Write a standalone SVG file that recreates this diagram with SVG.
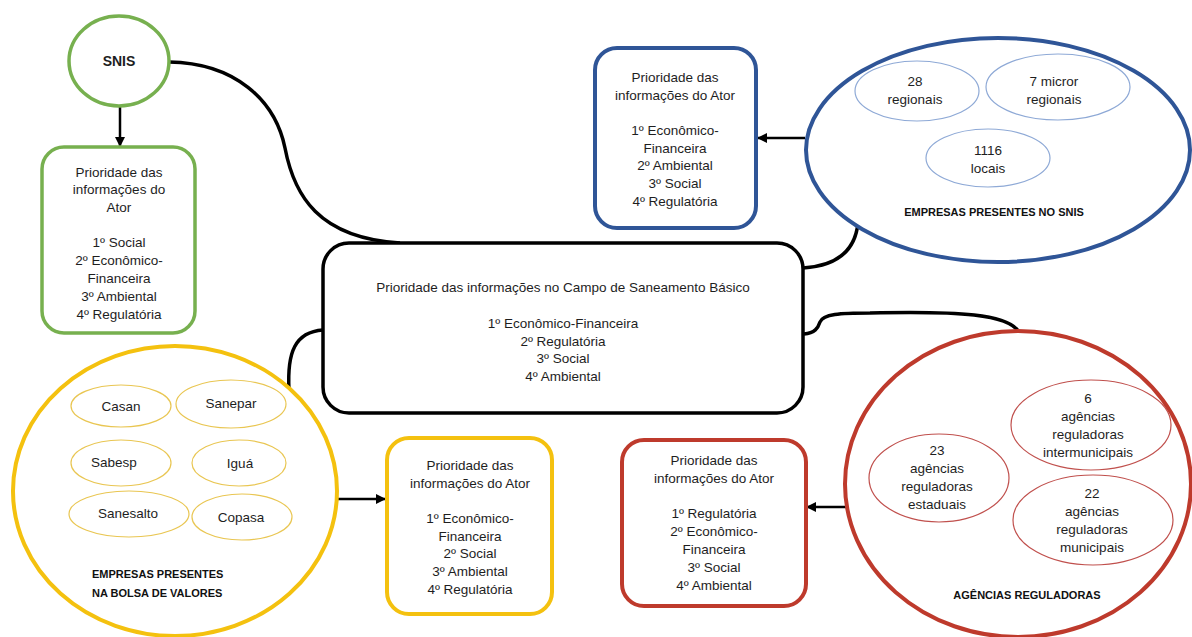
<svg xmlns="http://www.w3.org/2000/svg" width="1192" height="637" viewBox="0 0 1192 637">
<defs>
<marker id="arr" viewBox="0 0 10 10" refX="9" refY="5" markerWidth="4" markerHeight="4" orient="auto" markerUnits="strokeWidth">
<path d="M0,0 L10,5 L0,10 z" fill="#000"/>
</marker>
<style>
text{font-family:"Liberation Sans",Arial,sans-serif;font-size:13.5px;fill:#1e1e1e;text-anchor:middle}
.b{font-weight:bold;font-size:11px;fill:#111}
.l{text-anchor:start}
.con{fill:none;stroke:#000;stroke-width:3.5}
.arw{fill:none;stroke:#000;stroke-width:2.5;marker-end:url(#arr)}
.g{fill:#fff;stroke:#77b04f;stroke-width:3.5}
.bl{fill:#fff;stroke:#2f5597;stroke-width:4}
.rd{fill:#fff;stroke:#be3a2c;stroke-width:4}
.yl{fill:#fff;stroke:#f4c10f;stroke-width:4}
.ibl{fill:none;stroke:#8ea9d6;stroke-width:1.2}
.ird{fill:none;stroke:#c0504d;stroke-width:1.2}
.iyl{fill:none;stroke:#e9c652;stroke-width:1.2}
.box{fill:#fff;stroke:#000;stroke-width:3.5}
</style>
</defs>
<rect width="1192" height="637" fill="#fff"/>

<g id="connectors">
<path class="con" d="M169,62 C235,63 275,100 285,148 C294,195 318,238 400,243"/>
<path class="con" d="M803,268 C835,266 855,252 858,223"/>
<path class="con" d="M804,334 C815,333 818,328 820,322 C823,314 840,313 870,313 C960,311 1008,314 1019,332"/>
<path class="con" d="M289,390 C287,352 295,332 323,330"/>
<path class="arw" d="M120,107 L120,146"/>
<path class="arw" d="M805,138 L758,138"/>
<path class="arw" d="M337,499 L385,499"/>
<path class="arw" d="M846,507 L807,507"/>
</g>

<g id="snis">
<ellipse class="g" cx="119" cy="61" rx="50" ry="45"/>
<text x="119" y="66" style="font-weight:bold;font-size:14px">SNIS</text>
</g>

<g id="snis-prioridade">
<rect class="g" x="42" y="147" width="153" height="186" rx="22"/>
<text x="119" y="177">Prioridade das</text>
<text x="119" y="194">informações do</text>
<text x="119" y="212">Ator</text>
<text x="119" y="247">1º Social</text>
<text x="119" y="265">2º Econômico-</text>
<text x="119" y="283">Financeira</text>
<text x="119" y="301">3º Ambiental</text>
<text x="119" y="319">4º Regulatória</text>
</g>

<g id="central">
<rect class="box" x="323" y="243" width="480" height="170" rx="26"/>
<text x="563" y="292">Prioridade das informações no Campo de Saneamento Básico</text>
<text x="563" y="328">1º Econômico-Financeira</text>
<text x="563" y="346">2º Regulatória</text>
<text x="563" y="363">3º Social</text>
<text x="563" y="381">4º Ambiental</text>
</g>

<g id="empresas-snis">
<ellipse class="bl" cx="998" cy="150" rx="192" ry="112"/>
<ellipse class="ibl" cx="917" cy="91" rx="62" ry="30"/>
<text x="915" y="86">28</text>
<text x="915" y="104">regionais</text>
<ellipse class="ibl" cx="1058" cy="87" rx="72" ry="33"/>
<text x="1054" y="86">7 micror</text>
<text x="1054" y="104">regionais</text>
<ellipse class="ibl" cx="988" cy="158" rx="62" ry="29"/>
<text x="988" y="155">1116</text>
<text x="988" y="173">locais</text>
<text class="b" x="994" y="216">EMPRESAS PRESENTES NO SNIS</text>
</g>

<g id="snis-empresas-prioridade">
<rect class="bl" x="595" y="48" width="161" height="180" rx="22"/>
<text x="675" y="82">Prioridade das</text>
<text x="675" y="100">informações do Ator</text>
<text x="675" y="135">1º Econômico-</text>
<text x="675" y="153">Financeira</text>
<text x="675" y="170">2º Ambiental</text>
<text x="675" y="188">3º Social</text>
<text x="675" y="206">4º Regulatória</text>
</g>

<g id="bolsa">
<ellipse class="yl" cx="175" cy="491" rx="162" ry="145"/>
<ellipse class="iyl" cx="121" cy="406" rx="50" ry="21"/>
<text x="121" y="411">Casan</text>
<ellipse class="iyl" cx="231" cy="404" rx="55" ry="24"/>
<text x="231" y="408">Sanepar</text>
<ellipse class="iyl" cx="121" cy="463" rx="50" ry="23"/>
<text x="114" y="467">Sabesp</text>
<ellipse class="iyl" cx="239" cy="463" rx="47" ry="23"/>
<text x="240" y="468">Iguá</text>
<ellipse class="iyl" cx="129" cy="514" rx="60" ry="23"/>
<text x="128" y="518">Sanesalto</text>
<ellipse class="iyl" cx="242" cy="517" rx="50" ry="23"/>
<text x="241" y="522">Copasa</text>
<text class="b l" x="92" y="578">EMPRESAS PRESENTES</text>
<text class="b l" x="92" y="597">NA BOLSA DE VALORES</text>
</g>

<g id="bolsa-prioridade">
<rect class="yl" x="387" y="438" width="165" height="176" rx="22"/>
<text x="470" y="470">Prioridade das</text>
<text x="470" y="488">informações do Ator</text>
<text x="470" y="523">1º Econômico-</text>
<text x="470" y="541">Financeira</text>
<text x="470" y="558">2º Social</text>
<text x="470" y="576">3º Ambiental</text>
<text x="470" y="594">4º Regulatória</text>
</g>

<g id="agencias">
<ellipse class="rd" cx="1018" cy="484" rx="173" ry="153"/>
<ellipse class="ird" cx="1091" cy="425" rx="80" ry="45"/>
<text x="1088" y="403">6</text>
<text x="1088" y="421">agências</text>
<text x="1088" y="439">reguladoras</text>
<text x="1088" y="457">intermunicipais</text>
<ellipse class="ird" cx="1093" cy="520" rx="80" ry="45"/>
<text x="1092" y="498">22</text>
<text x="1092" y="516">agências</text>
<text x="1092" y="534">reguladoras</text>
<text x="1092" y="552">municipais</text>
<ellipse class="ird" cx="939" cy="478" rx="70" ry="44"/>
<text x="937" y="455">23</text>
<text x="937" y="473">agências</text>
<text x="937" y="491">reguladoras</text>
<text x="937" y="509">estaduais</text>
<text class="b" x="1027" y="599">AGÊNCIAS REGULADORAS</text>
</g>

<g id="agencias-prioridade">
<rect class="rd" x="622" y="440" width="184" height="166" rx="22"/>
<text x="714" y="465">Prioridade das</text>
<text x="714" y="483">informações do Ator</text>
<text x="714" y="518">1º Regulatória</text>
<text x="714" y="536">2º Econômico-</text>
<text x="714" y="554">Financeira</text>
<text x="714" y="572">3º Social</text>
<text x="714" y="590">4º Ambiental</text>
</g>
</svg>
